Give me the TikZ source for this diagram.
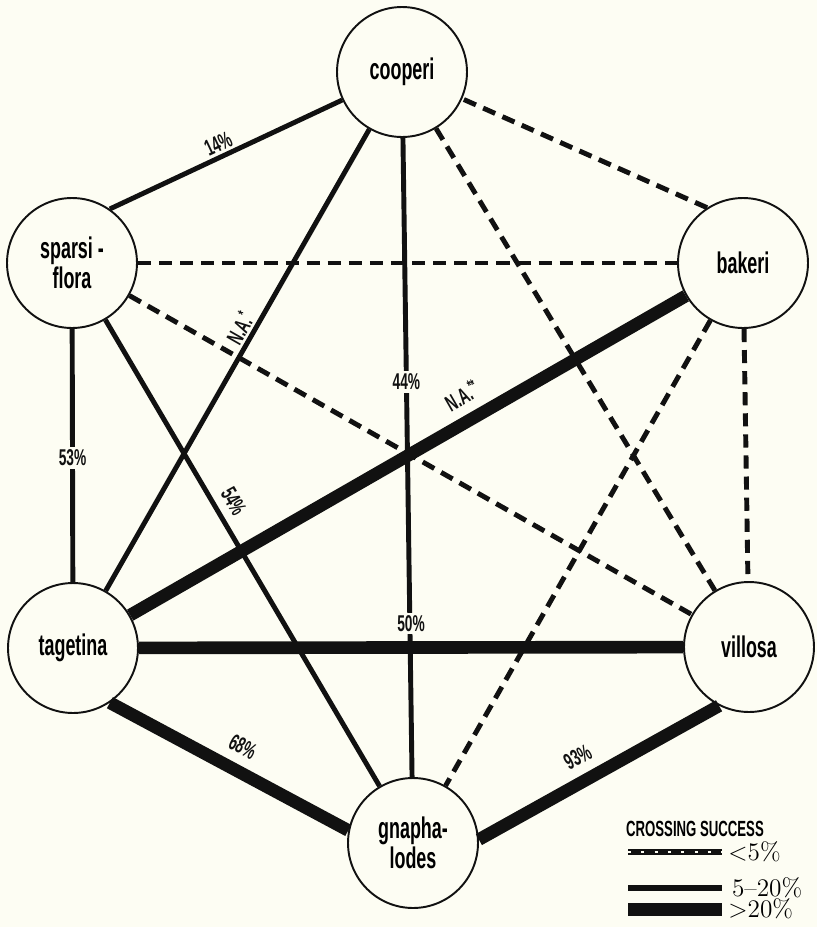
\documentclass[tikz,border=0pt]{standalone}
\usepackage{fontspec}
\usetikzlibrary{positioning}
\newfontfamily\condsans[FakeStretch=0.6]{Liberation Sans}
\definecolor{paper}{HTML}{FDFDF3}
\definecolor{ink}{HTML}{111111}

\tikzset{
  species/.style={draw=ink,fill=paper,circle,line width=1.1pt,minimum size=2.6cm,
    inner sep=0pt,align=center,font=\condsans\bfseries\fontsize{17}{17}\selectfont},
  pct/.style={font=\condsans\bfseries\fontsize{13}{14}\selectfont,inner sep=1.5pt},
  low/.style={ink,line width=2.8pt,dash pattern=on 7.5pt off 4.5pt},
  mid/.style={ink,line width=2.8pt},
  high/.style={ink,line width=7.2pt},
  keytext/.style={anchor=west,inner sep=0pt,font=\Large},
}

\begin{document}
\begin{tikzpicture}[x=0.02cm,y=-0.02cm]
  \path[fill=paper] (0,0) rectangle (817,927);
  \useasboundingbox (0,0) rectangle (817,927);

  % species
  \node[species] (cooperi) at (402,72) {cooperi};
  \node[species] (sparsiflora) at (72,263) {sparsi\,-\\flora};
  \node[species] (bakeri) at (743,263) {bakeri};
  \node[species] (tagetina) at (73,648) {tagetina};
  \node[species] (villosa) at (749,647) {villosa};
  \node[species] (gnaphalodes) at (413,843) {gnapha-\\lodes};

  % crosses
  \draw[mid] (sparsiflora.55) -- (cooperi) node[pct,sloped,above,pos=.49] {14\%};
  \draw[low] (bakeri.123) -- (cooperi);
  \draw[mid] (tagetina) -- (cooperi) node[pct,sloped,above,pos=.555] {N.A.\textsuperscript{*}};
  \draw[mid] (cooperi) -- (gnaphalodes) node[pct,fill=paper,pos=.382] {44\%};
  \draw[low] (cooperi) -- (villosa);
  \draw[low] (sparsiflora) -- (bakeri);
  \draw[mid] (sparsiflora) -- (tagetina) node[pct,fill=paper,pos=.51] {53\%};
  \draw[mid] (sparsiflora) -- (gnaphalodes) node[pct,sloped,above=3pt,pos=.41] {54\%};
  \draw[low] (sparsiflora) -- (villosa);
  \draw[high] (tagetina) -- (bakeri) node[pct,sloped,above=4pt,pos=.62] {N.A.\textsuperscript{**}};
  \draw[low] (bakeri) -- (villosa);
  \draw[low] (bakeri) -- (gnaphalodes);
  \draw[high] (tagetina) -- (villosa) node[pct,fill=paper,above=4pt,pos=.5] {50\%};
  \draw[high] (tagetina.-56) -- (gnaphalodes.169) node[pct,sloped,above=4pt,pos=.51] {68\%};
  \draw[high] (gnaphalodes.3) -- (villosa.-117) node[pct,sloped,above=4pt,pos=.46] {93\%};

  % legend
  \node[font=\condsans\bfseries\fontsize{12.5}{13}\selectfont] (legtitle) at (695,829) {CROSSING SUCCESS};
  \coordinate (lowL) at (628,852);  \coordinate (lowR) at (722,852);
  \coordinate (midL) at (628,888);  \coordinate (midR) at (722,888);
  \coordinate (highL) at (628,909); \coordinate (highR) at (722,909);
  \draw[ink,line width=3.4pt] (lowL) -- (lowR);
  \draw[paper,line width=1.2pt,dash pattern=on 1.6pt off 6pt] (lowL) -- (lowR);
  \draw[ink,line width=3.4pt] (midL) -- (midR);
  \draw[ink,line width=7.4pt] (highL) -- (highR);
  \node[keytext,right=3.4pt of lowR] (lowkey) {<5\%};
  \node[keytext,right=5.5pt of midR] (midkey) {5--20\%};
  \node[keytext,right=3.4pt of highR] (highkey) {>20\%};
\end{tikzpicture}
\end{document}
